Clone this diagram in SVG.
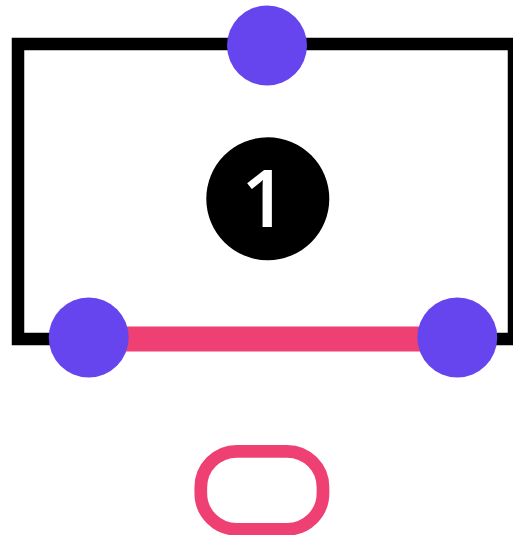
<svg xmlns="http://www.w3.org/2000/svg" width="513" height="535" viewBox="0 0 513 535">
<style>
.port{fill:#6644ee}
.wire{stroke:#ee4073;stroke-width:25;fill:none}
</style>
<rect width="513" height="535" fill="#fff"/>
<g id="frame"><rect x="18" y="44" width="496" height="295" fill="none" stroke="#000" stroke-width="12.5"/></g>
<g id="connectors"><line class="wire" x1="88.7" y1="339" x2="457.3" y2="339"/></g>
<g id="badge"><circle cx="267.8" cy="198.8" r="61.5" fill="#000"/><text x="264" y="227" text-anchor="middle" font-family="Open Sans, Noto Sans, sans-serif" font-size="80" font-weight="600" fill="#fff">1</text></g>
<g id="port-top"><circle class="port" cx="267" cy="45.5" r="40"/></g>
<g id="port-left"><circle class="port" cx="88.7" cy="337.5" r="40"/></g>
<g id="port-right"><circle class="port" cx="457.3" cy="337.5" r="40"/></g>
<g id="pill"><rect x="200.8" y="451.3" width="122.2" height="78" rx="36" fill="none" stroke="#ee4073" stroke-width="12.7"/></g>
</svg>
